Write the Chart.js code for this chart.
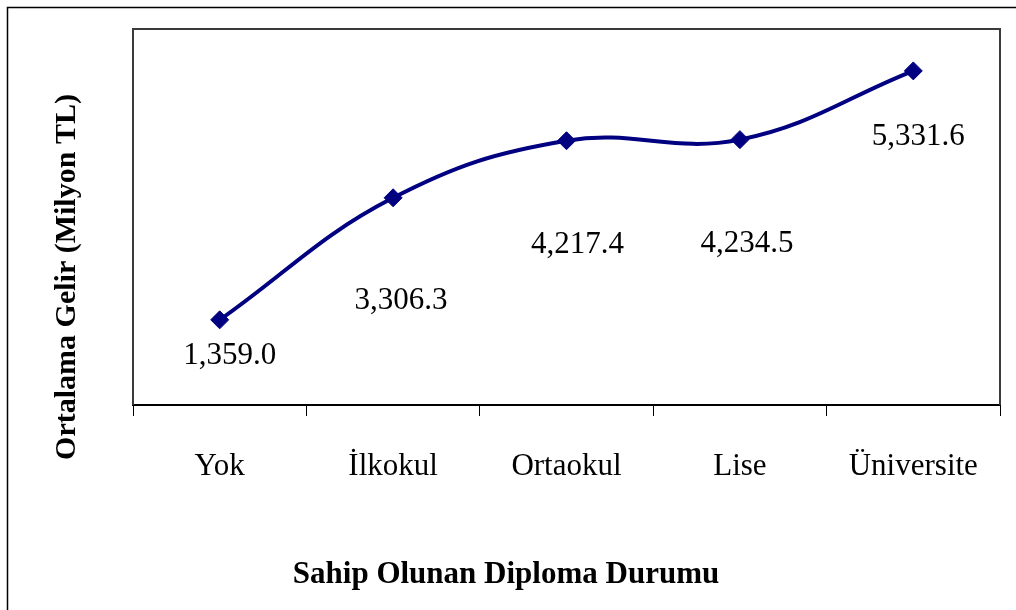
<!DOCTYPE html>
<html>
<head>
<meta charset="utf-8">
<script src="https://cdn.jsdelivr.net/npm/chart.js@4/dist/chart.umd.min.js"></script>
<style>
  html, body { margin: 0; padding: 0; background: #fff; }
  #wrap { width: 1016px; height: 610px; position: relative; }
</style>
</head>
<body>
<div id="wrap"><canvas id="c" width="1016" height="610"></canvas></div>
<script>
// Chart data
const categories = ['Yok', 'İlkokul', 'Ortaokul', 'Lise', 'Üniversite'];
const incomeValues = [1359.0, 3306.3, 4217.4, 4234.5, 5331.6];
const yRange = [0, 6000];

const xTitle = 'Sahip Olunan Diploma Durumu';
const yTitle = 'Ortalama Gelir (Milyon TL)';

// label offsets from each point (pixels), placed by hand in the original
const labelShift = [[10, 36], [8, 103], [11, 104], [7, 104], [5, 66]];

const serif = '"Liberation Serif", "Times New Roman", serif';

const fmt = v => v.toLocaleString('en-US', { minimumFractionDigits: 1, maximumFractionDigits: 1 });

const decor = {
  id: 'decor',
  afterDraw(chart) {
    const ctx = chart.ctx;
    const a = chart.chartArea;
    ctx.save();
    // outer frame (left + top only visible)
    ctx.strokeStyle = '#000';
    ctx.lineWidth = 1.5;
    ctx.beginPath();
    ctx.moveTo(7.5, 610);
    ctx.lineTo(7.5, 7.5);
    ctx.lineTo(1016, 7.5);
    ctx.stroke();
    // plot box
    ctx.strokeStyle = '#3a3a3a';
    ctx.lineWidth = 2;
    ctx.beginPath();
    ctx.moveTo(a.left, a.bottom);
    ctx.lineTo(a.left, a.top);
    ctx.lineTo(a.right, a.top);
    ctx.lineTo(a.right, a.bottom);
    ctx.stroke();

    // data labels
    ctx.fillStyle = '#000';
    ctx.font = '31px ' + serif;
    ctx.textAlign = 'center';
    ctx.textBaseline = 'middle';
    const meta = chart.getDatasetMeta(0);
    meta.data.forEach((pt, i) => {
      ctx.fillText(fmt(incomeValues[i]), pt.x + labelShift[i][0], pt.y + labelShift[i][1]);
    });

    // axis titles
    ctx.font = 'bold 31px ' + serif;
    ctx.fillText(xTitle, 506, 575);
    ctx.translate(67, 277);
    ctx.rotate(-Math.PI / 2);
    ctx.font = 'bold 30px ' + serif;
    ctx.fillText(yTitle, 0, 0);
    ctx.restore();
  }
};

new Chart(document.getElementById('c').getContext('2d'), {
  type: 'line',
  data: {
    labels: categories,
    datasets: [{
      data: incomeValues,
      borderColor: '#000080',
      backgroundColor: '#000080',
      borderWidth: 4,
      tension: 0.4,
      pointStyle: 'rectRot',
      pointRadius: 9,
      pointBorderWidth: 1,
      pointBackgroundColor: '#000080',
      pointBorderColor: '#000080',
      fill: false
    }]
  },
  options: {
    responsive: false,
    animation: false,
    layout: { padding: { left: 133, top: 29, right: 16, bottom: 0 } },
    plugins: { legend: { display: false }, tooltip: { enabled: false } },
    scales: {
      x: {
        offset: true,
        afterFit(s) { s.height = 205; },
        grid: { offset: true, drawOnChartArea: false, drawTicks: true, tickLength: 11, color: '#000', lineWidth: 1 },
        border: { display: true, color: '#000', width: 2 },
        ticks: { color: '#000', font: { family: serif, size: 31 }, padding: 32, maxRotation: 0 }
      },
      y: {
        display: false,
        min: yRange[0],
        max: yRange[1]
      }
    }
  },
  plugins: [decor]
});
</script>
</body>
</html>
